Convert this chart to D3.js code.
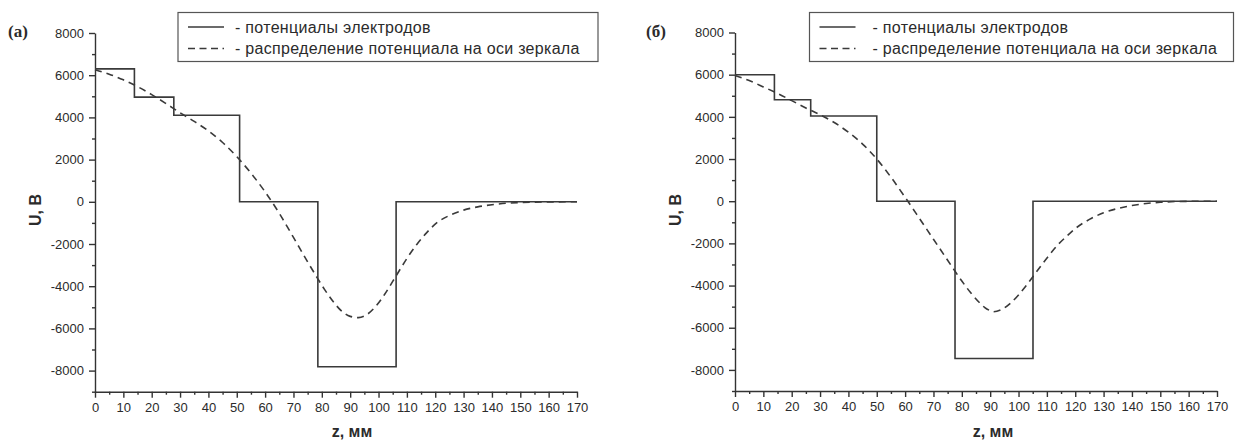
<!DOCTYPE html>
<html>
<head>
<meta charset="utf-8">
<script src="https://cdn.jsdelivr.net/npm/d3@7"></script>
<style>
  body { margin: 0; background: #fff; }
  text { font-family: Arial, "Liberation Sans", sans-serif; fill: #2b2b2b; }
</style>
</head>
<body>
<div id="chart"></div>
<script>
var svgWidth = 1235;
var svgHeight = 441;

// electrode potentials (step edges in mm, potential in V)
var edgesA = [0, 13.9, 27.8, 51.0, 78.6, 106.2, 170];
var electrodeA = [6300, 4960, 4100, 0, -7820, 0];
var edgesB = [0, 13.9, 26.7, 50.0, 77.6, 105.1, 170];
var electrodeB = [6000, 4810, 4040, 0, -7460, 0];

// potential along the mirror axis
var zAxisA = [0, 5, 10, 15, 20, 25, 30, 35, 40, 45, 50, 55, 60, 65, 70, 75, 78.6, 81, 84, 87, 90, 92.9, 96, 99, 102, 105, 108, 110, 113.5, 117, 120.6, 125, 130, 135, 140, 145, 150, 160, 170];
var uAxisA = [6260, 6050, 5780, 5460, 5080, 4660, 4220, 3810, 3360, 2810, 2140, 1360, 470, -546, -1690, -2850, -3650, -4160, -4730, -5180, -5430, -5490, -5335, -4960, -4420, -3775, -3115, -2685, -2020, -1460, -990, -650, -395, -240, -140, -70, -35, -5, 0];
var zAxisB = [0, 5, 10, 15, 20, 25, 30, 35, 40, 45, 50, 55, 60, 65, 70, 75, 80, 83, 86, 88, 90, 91.2, 94, 97, 100, 103, 105, 108, 111, 114, 117, 120, 125, 130, 135, 140, 145, 150, 160, 170];
var uAxisB = [5960, 5720, 5420, 5110, 4770, 4420, 4100, 3730, 3270, 2710, 2000, 1140, 185, -805, -1805, -2800, -3785, -4320, -4780, -5030, -5190, -5240, -5140, -4855, -4445, -3950, -3590, -3050, -2525, -2050, -1660, -1300, -863, -550, -345, -205, -110, -50, -5, 0];

var xTicks = d3.range(0, 171, 10);
var xMinor = d3.range(5, 170, 10);
var yTicks = [-8000, -6000, -4000, -2000, 0, 2000, 4000, 6000, 8000];
var yMinor = [-9000, -7000, -5000, -3000, -1000, 1000, 3000, 5000, 7000];

var legendLabels = ["- потенциалы электродов", "- распределение потенциала на оси зеркала"];

var svg = d3.select("#chart")
  .append("svg")
  .attr("width", svgWidth)
  .attr("height", svgHeight);

function drawPanel(opt) {
  var x = d3.scaleLinear().domain([0, 170]).range([opt.left, opt.right]);
  var y = d3.scaleLinear().domain([-9000, 8000]).range([opt.bottom, opt.top]);
  var g = svg.append("g");

  // minor ticks first
  g.append("g")
    .attr("transform", `translate(0, ${opt.bottom})`)
    .call(d3.axisBottom(x).tickValues(xMinor).tickSize(3).tickFormat(""))
    .call(a => a.select(".domain").remove());
  g.append("g")
    .attr("transform", `translate(${opt.left}, 0)`)
    .call(d3.axisLeft(y).tickValues(yMinor).tickSize(3).tickFormat(""))
    .call(a => a.select(".domain").remove());

  var xAxis = g.append("g")
    .attr("transform", `translate(0, ${opt.bottom})`)
    .call(d3.axisBottom(x).tickValues(xTicks).tickSize(6).tickSizeOuter(0).tickPadding(5).tickFormat(d => String(d)));
  var yAxis = g.append("g")
    .attr("transform", `translate(${opt.left}, 0)`)
    .call(d3.axisLeft(y).tickValues(yTicks).tickSize(6).tickSizeOuter(0).tickPadding(5).tickFormat(d => String(d)));

  [xAxis, yAxis].forEach(function(a) {
    a.selectAll("path, line").attr("stroke", "#333").attr("stroke-width", 1.4);
    a.selectAll("text").style("font-size", "13px").attr("fill", "#2b2b2b");
  });
  g.selectAll("line").attr("stroke", "#333").attr("stroke-width", 1.4);

  // electrodes (step line)
  var steps = opt.edges.map((e, i) => [e, i < opt.electrode.length ? opt.electrode[i] : opt.electrode[opt.electrode.length - 1]]);
  var stepLine = d3.line()
    .x(d => x(d[0]))
    .y(d => y(d[1]))
    .curve(d3.curveStepAfter);
  g.append("path")
    .datum(steps)
    .attr("d", stepLine)
    .attr("fill", "none")
    .attr("stroke", "#3a3a3a")
    .attr("stroke-width", 1.6);

  // axis distribution (dashed)
  var pts = opt.zs.map((z, i) => [z, opt.us[i]]);
  var curve = d3.line()
    .x(d => x(d[0]))
    .y(d => y(d[1]))
    .curve(d3.curveMonotoneX);
  g.append("path")
    .datum(pts)
    .attr("d", curve)
    .attr("fill", "none")
    .attr("stroke", "#3a3a3a")
    .attr("stroke-width", 1.6)
    .attr("stroke-dasharray", "7,5");

  // axis titles
  g.append("text")
    .attr("x", opt.xTitle)
    .attr("y", 437)
    .attr("text-anchor", "middle")
    .style("font-size", "16px")
    .style("font-weight", "bold")
    .text("z, мм");
  g.append("text")
    .attr("transform", `translate(${opt.left - 54}, 210) rotate(-90)`)
    .attr("text-anchor", "middle")
    .style("font-size", "16px")
    .style("font-weight", "bold")
    .text("U, B");

  // panel label
  g.append("text")
    .attr("x", opt.labelX)
    .attr("y", 37)
    .style("font-family", "'Liberation Serif', 'Times New Roman', serif")
    .style("font-size", "17px")
    .style("font-weight", "bold")
    .text(opt.label);

  // legend
  var lg = g.append("g");
  lg.append("rect")
    .attr("x", opt.legX)
    .attr("y", 12.5)
    .attr("width", opt.legW)
    .attr("height", 49)
    .attr("fill", "#fff")
    .attr("stroke", "#555")
    .attr("stroke-width", 1.2);
  [0, 1].forEach(function(i) {
    var ly = 27 + i * 21.5;
    lg.append("line")
      .attr("x1", opt.legX + 10)
      .attr("x2", opt.legX + 46)
      .attr("y1", ly)
      .attr("y2", ly)
      .attr("stroke", "#3a3a3a")
      .attr("stroke-width", 1.6)
      .attr("stroke-dasharray", i === 1 ? "7,4.5" : null);
    lg.append("text")
      .attr("x", opt.legX + opt.textOff)
      .attr("y", ly + 5.5)
      .style("font-size", "16px")
      .style("letter-spacing", "0.3px")
      .text(legendLabels[i]);
  });
}

drawPanel({
  left: 95, right: 577, top: 33, bottom: 391.7,
  edges: edgesA, electrode: electrodeA, zs: zAxisA, us: uAxisA,
  xTitle: 352, label: "(a)", labelX: 8,
  legX: 178, legW: 420, textOff: 57
});
drawPanel({
  left: 735, right: 1217, top: 32.5, bottom: 391,
  edges: edgesB, electrode: electrodeB, zs: zAxisB, us: uAxisB,
  xTitle: 993, label: "(б)", labelX: 646,
  legX: 809.5, legW: 424, textOff: 63
});
</script>
</body>
</html>
